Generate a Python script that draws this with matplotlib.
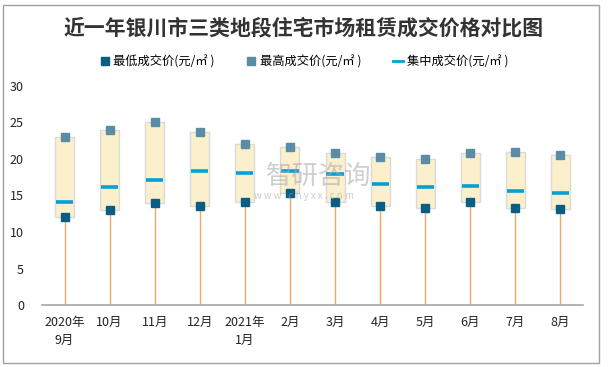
import matplotlib.pyplot as plt
from matplotlib.lines import Line2D
from matplotlib.patches import Rectangle

plt.rcParams['font.family'] = ['Noto Sans CJK SC', 'DejaVu Sans']

months = ["2020年\n9月", "10月", "11月", "12月", "2021年\n1月", "2月",
          "3月", "4月", "5月", "6月", "7月", "8月"]
low = [12.0, 13.0, 14.0, 13.6, 14.1, 15.3, 14.1, 13.6, 13.3, 14.1, 13.3, 13.1]
high = [23.0, 24.0, 25.0, 23.7, 22.0, 21.7, 20.8, 20.3, 20.0, 20.8, 20.9, 20.6]
mid = [14.1, 16.2, 17.1, 18.4, 18.1, 18.4, 17.9, 16.6, 16.2, 16.3, 15.6, 15.3]

c_low = "#0B5E83"
c_high = "#5B8CA6"
c_mid = "#00A0DC"
c_box = "#FCEFCB"
c_drop = "#F0A868"

fig = plt.figure(figsize=(6.08, 3.67), dpi=100)
ax = fig.add_axes([42 / 608, 62 / 367, 541 / 608, 219 / 367])

x = list(range(len(months)))
bw = 0.42

# boxes from low to high
ax.bar(x, [h - l for h, l in zip(high, low)], bottom=low, width=bw,
       color=c_box, edgecolor="#DADADA", linewidth=1, zorder=2)
# drop lines
ax.vlines(x, 0, low, color=c_drop, linewidth=1, zorder=1)
# central price
ax.hlines(mid, [i - bw / 2 + 0.02 for i in x], [i + bw / 2 - 0.02 for i in x],
          color=c_mid, linewidth=2.6, zorder=3)
ax.plot(x, low, ls="none", marker="s", ms=5.5, color=c_low, zorder=4)
ax.plot(x, high, ls="none", marker="s", ms=5.5, color=c_high, zorder=4)

ax.set_xlim(-0.5, 11.5)
ax.set_ylim(0, 30)
ax.set_yticks(range(0, 31, 5))
ax.set_xticks(x)
ax.set_xticklabels(months, fontsize=9, color="#222222", linespacing=1.5)
ax.tick_params(axis="y", length=0, pad=13, labelsize=9, labelcolor="#222222")
ax.tick_params(axis="x", length=0, pad=8)
for s in ["left", "right", "top"]:
    ax.spines[s].set_visible(False)
ax.spines["bottom"].set_color("#A6A6A6")
ax.spines["bottom"].set_linewidth(1.2)

fig.text(0.5, 1 - 28 / 367, "近一年银川市三类地段住宅市场租赁成交价格对比图",
         ha="center", va="center", fontsize=15, fontweight="bold", color="#333333")

handles = [
    Line2D([], [], ls="none", marker="s", ms=5.5, color=c_low),
    Line2D([], [], ls="none", marker="s", ms=5.5, color=c_high),
    Line2D([], [], color=c_mid, linewidth=2),
]
labels = ["最低成交价(元/㎡ )", "最高成交价(元/㎡ )", "集中成交价(元/㎡ )"]
fig.legend(handles, labels, loc="center", bbox_to_anchor=(0.5, 1 - 62 / 367),
           ncol=3, frameon=False, fontsize=8.8, handlelength=0.8,
           handletextpad=0.3, columnspacing=2.6)

# watermark
fig.text(0.525, 1 - 176 / 367, "智研咨询", ha="center", va="center",
         fontsize=19, color="#A8A8A8", alpha=0.55)
fig.text(0.5, 1 - 196 / 367, "w w w . c h y x x . c o m", ha="center",
         va="center", fontsize=7, color="#A8A8A8", alpha=0.55)

fig.patches.append(Rectangle((3 / 608, 4 / 367), 596 / 608, 358 / 367,
                             transform=fig.transFigure, fill=False,
                             edgecolor="#A0A0A0", linewidth=1))

fig.savefig("out.png", dpi=100)
